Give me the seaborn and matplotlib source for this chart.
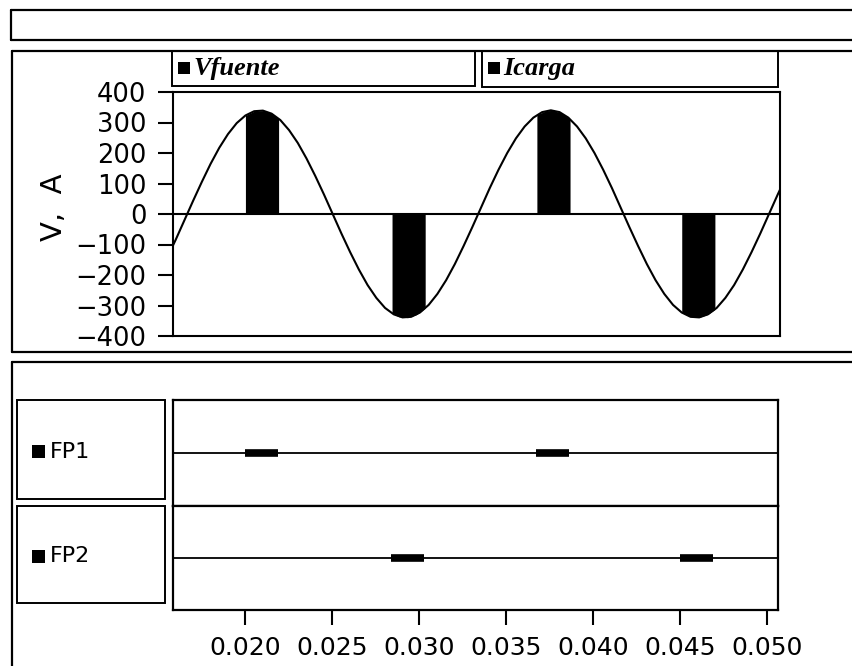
import numpy as np
import pandas as pd
import matplotlib
matplotlib.use('Agg')
import matplotlib.pyplot as plt
import seaborn as sns
from matplotlib.patches import Rectangle
from matplotlib.lines import Line2D

sns.set_style('white')
plt.rcParams['font.family'] = ['DejaVu Sans']
plt.rcParams['text.color'] = 'black'
plt.rcParams['axes.labelcolor'] = 'black'
plt.rcParams['xtick.color'] = 'black'
plt.rcParams['ytick.color'] = 'black'

# tiempo (s), una muestra cada 0.5 ms
t = np.round(np.arange(0.0155, 0.05101, 0.0005), 4)
vfuente = [-145, -85, -21, 43, 105, 164, 217, 262, 298, 323, 337, 339,
           329, 308, 275, 233, 182, 125, 64, 0, -64, -125, -182, -233,
           -275, -308, -329, -339, -337, -323, -298, -262, -217, -164, -105, -43,
           21, 85, 145, 200, 248, 287, 316, 334, 340, 334, 316, 287,
           248, 200, 145, 85, 21, -43, -105, -164, -217, -262, -298, -323,
           -337, -339, -329, -308, -275, -233, -182, -125, -64, 0, 64, 125]

# pulsos de Icarga
icarga_t = [[0.0200, 0.0205, 0.0210, 0.0215, 0.0219],
            [0.0284, 0.0288, 0.0293, 0.0298, 0.0303],
            [0.0367, 0.0372, 0.0376, 0.0381, 0.0386],
            [0.0450, 0.0455, 0.0460, 0.0465, 0.0469]]
icarga_v = [[323, 337, 339, 329, 313],
            [-326, -337, -340, -330, -309],
            [325, 338, 340, 331, 311],
            [-323, -337, -339, -329, -313]]

# disparos FP1 / FP2 (inicio, fin)
fp1_on = [0.0200, 0.0367]
fp1_off = [0.0219, 0.0386]
fp2_on = [0.0284, 0.0450]
fp2_off = [0.0303, 0.0469]

xlim = (0.01585, 0.05063)
xticks = [0.020, 0.025, 0.030, 0.035, 0.040, 0.045, 0.050]
yticks = [-400, -300, -200, -100, 0, 100, 200, 300, 400]

W, H = 852, 666
def fx(x):
    return x / W
def fy(y):
    return 1 - y / H

def square(x0, y0, size):
    # marcador cuadrado de la leyenda (pixeles desde arriba a la izquierda)
    fig.add_artist(Rectangle((fx(x0), fy(y0 + size)), size / W, size / H,
                             transform=fig.transFigure, color='black', lw=0))

fig = plt.figure(figsize=(8.52, 6.66), dpi=100)

# marcos de los paneles
lw_frame = 1.6
for (x0, x1, y0, y1) in [(10.5, 852, 9.5, 9.5), (10.5, 852, 39.5, 39.5), (10.5, 10.5, 9.5, 39.5),
                         (12, 852, 50.5, 50.5), (12, 852, 352, 352), (12, 12, 50.5, 352),
                         (12, 852, 362, 362), (12, 12, 362, 666)]:
    fig.add_artist(Line2D([fx(x0), fx(x1)], [fy(y0), fy(y1)], color='black', lw=lw_frame))

# cajas de leyenda
for (x0, x1, y1, name) in [(172, 475, 85.5, 'Vfuente'), (482, 778, 87, 'Icarga')]:
    fig.add_artist(Rectangle((fx(x0), fy(y1)), fx(x1) - fx(x0), fy(50.5) - fy(y1),
                             transform=fig.transFigure, fill=False, ec='black', lw=1.4))
    square(x0 + 6, 62, 12)
    fig.text(fx(x0 + 21), fy(68.5), name, fontsize=19, va='center', ha='left',
             family='Liberation Serif', weight='bold', style='italic')

for (y0, y1, name) in [(400, 499, 'FP1'), (506, 603, 'FP2')]:
    fig.add_artist(Rectangle((fx(17), fy(y1)), fx(165) - fx(17), fy(y0) - fy(y1),
                             transform=fig.transFigure, fill=False, ec='black', lw=1.4))
    yc = (y0 + y1) / 2 + 2
    square(32, yc - 6.5, 13)
    fig.text(fx(50), fy(yc), name, fontsize=16, va='center', ha='left')

# panel superior: Vfuente e Icarga
ax1 = fig.add_axes([fx(173), fy(336), fx(780) - fx(173), fy(92) - fy(336)])
df = pd.DataFrame({'t': t, 'Vfuente': vfuente})
sns.lineplot(data=df, x='t', y='Vfuente', color='black', lw=1.5, ax=ax1)
for pt, pv in zip(icarga_t, icarga_v):
    ax1.fill_between(pt, 0, pv, color='black', lw=0)
ax1.axhline(0, color='black', lw=1.5)
ax1.set_xlim(xlim)
ax1.set_ylim(-400, 400)
ax1.set_yticks(yticks)
ax1.set_xticks([])
ax1.set_xlabel('')
ax1.set_ylabel('V,  A', fontsize=21)
ax1.yaxis.set_label_coords((68 - 173) / 607, (336 - 207) / 244)
ax1.tick_params(axis='y', direction='out', length=11, width=1.5, pad=8,
                labelsize=18.5, left=True)
for s in ax1.spines.values():
    s.set_color('black')
    s.set_linewidth(1.5)

# panel inferior: FP1 y FP2
ax2 = fig.add_axes([fx(173), fy(505.7), fx(778) - fx(173), fy(400) - fy(505.7)])
ax3 = fig.add_axes([fx(173), fy(610), fx(778) - fx(173), fy(505.7) - fy(610)])
for ax, on, off in [(ax2, fp1_on, fp1_off), (ax3, fp2_on, fp2_off)]:
    base = pd.DataFrame({'t': list(xlim), 'fp': [0, 0]})
    sns.lineplot(data=base, x='t', y='fp', color='black', lw=1.3, ax=ax)
    ax.hlines([0] * len(on), on, off, color='black', lw=5.5)
    ax.set_xlim(xlim)
    ax.set_ylim(-1, 1)
    ax.set_yticks([])
    ax.set_xlabel('')
    ax.set_ylabel('')
    for s in ax.spines.values():
        s.set_color('black')
        s.set_linewidth(1.6)
ax2.set_xticks([])
ax3.set_xticks(xticks)
ax3.set_xticklabels(['%.3f' % v for v in xticks])
ax3.tick_params(axis='x', direction='out', length=11, width=1.5, pad=8,
                labelsize=18, bottom=True)

fig.savefig('out.png', dpi=100)
